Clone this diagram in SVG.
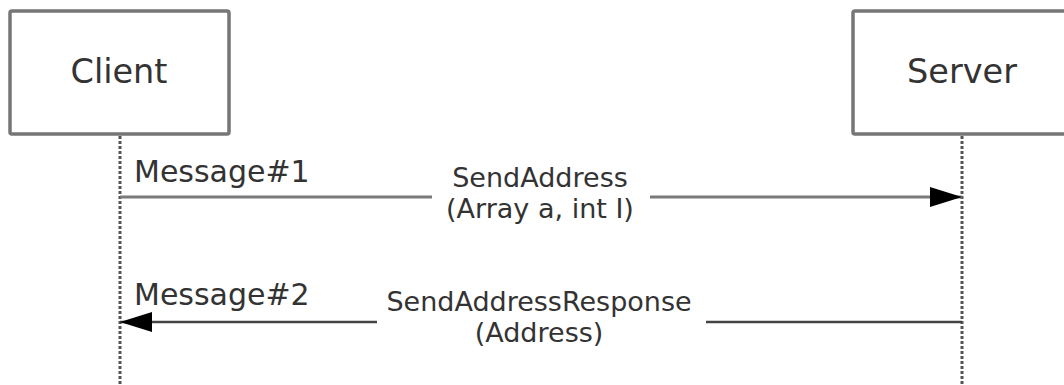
<svg xmlns="http://www.w3.org/2000/svg" width="1064" height="385" viewBox="0 0 1064 385">
<defs>
<style>
.box{fill:#fff;stroke:#767676;stroke-width:3.5}
.life{stroke:#555;stroke-width:3;stroke-dasharray:3 2;fill:none}
.t{font-family:"DejaVu Sans","Verdana",sans-serif;fill:#333}
.big{font-size:33.5px}
.msg{font-size:30px}
.call{font-size:27px}
</style>
<marker id="ah" markerWidth="32" markerHeight="20" refX="32" refY="10" orient="auto" markerUnits="userSpaceOnUse">
<path d="M0,0 L32,10 L0,20 Z" fill="#000"/>
</marker>
</defs>
<rect width="1064" height="385" fill="#fff"/>
<g id="client">
<rect class="box" x="10" y="11" width="219" height="123" rx="2"/>
<text class="t big" x="119" y="83" text-anchor="middle">Client</text>
</g>
<g id="server">
<rect class="box" x="853" y="11" width="219" height="123" rx="2"/>
<text class="t big" x="962" y="83" text-anchor="middle">Server</text>
</g>
<g id="connectors">
<line class="life" x1="120" y1="136" x2="120" y2="385"/>
<line class="life" x1="962" y1="136" x2="962" y2="385"/>
<line x1="120" y1="197" x2="432" y2="197" stroke="#7a7a7a" stroke-width="3"/>
<line x1="650" y1="197" x2="962" y2="197" stroke="#7a7a7a" stroke-width="3" marker-end="url(#ah)"/>
<line x1="962" y1="322" x2="706" y2="322" stroke="#444" stroke-width="2.5"/>
<line x1="377" y1="322" x2="120" y2="322" stroke="#444" stroke-width="2.5" marker-end="url(#ah)"/>
</g>
<g id="labels">
<text class="t msg" x="134" y="182">Message#1</text>
<text class="t call" x="540" y="187" text-anchor="middle">SendAddress</text>
<text class="t call" x="540" y="218" text-anchor="middle">(Array a, int I)</text>
<text class="t msg" x="134" y="305">Message#2</text>
<text class="t call" x="539" y="311" text-anchor="middle">SendAddressResponse</text>
<text class="t call" x="539" y="342" text-anchor="middle">(Address)</text>
</g>
</svg>
